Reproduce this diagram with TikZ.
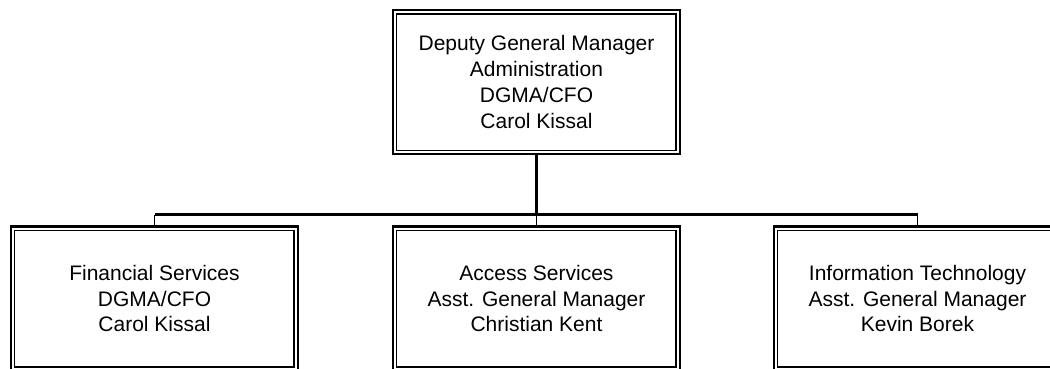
\documentclass[tikz,border=0pt]{standalone}
\usepackage{fontspec}
\setmainfont{Liberation Sans}
\begin{document}
\begin{tikzpicture}[x=1pt,y=-1pt,
  orgbox/.style={draw, line width=2.2pt, minimum width=287pt, minimum height=144pt,
    align=center, inner sep=0pt, font=\fontsize{21}{25.7}\selectfont},
  link/.style={line width=2.2pt},
  stub/.style={line width=1.6pt}]
\useasboundingbox (0,0) rectangle (1050,369);
\begin{scope}
\clip (0,0) rectangle (1050,369);
\node[orgbox] (dgm) at (536.5,82) {Deputy General Manager\\Administration\\DGMA/CFO\\Carol Kissal};
\node[orgbox] (fin) at (154.5,298.5) {Financial Services\\DGMA/CFO\\Carol Kissal};
\node[orgbox] (acc) at (536.5,298.5) {Access Services\\Asst. General Manager\\Christian Kent};
\node[orgbox] (inf) at (917.5,298.5) {Information Technology\\Asst. General Manager\\Kevin Borek};
% inner rule of each double frame
\foreach \n in {dgm,fin,acc,inf}
  \draw[line width=1.6pt] ([shift={(4.5,5)}]\n.north west) rectangle ([shift={(-5,-4.5)}]\n.south east);
\coordinate (bar) at (536.5,214.5);
\draw[link] (dgm.south) -- (bar);
\draw[link] (fin.north |- bar) -- (inf.north |- bar);
\draw[stub] (bar) -- (acc.north);
\draw[stub] (fin.north |- bar) -- (fin.north);
\draw[stub] (inf.north |- bar) -- (inf.north);
\end{scope}
\end{tikzpicture}
\end{document}
